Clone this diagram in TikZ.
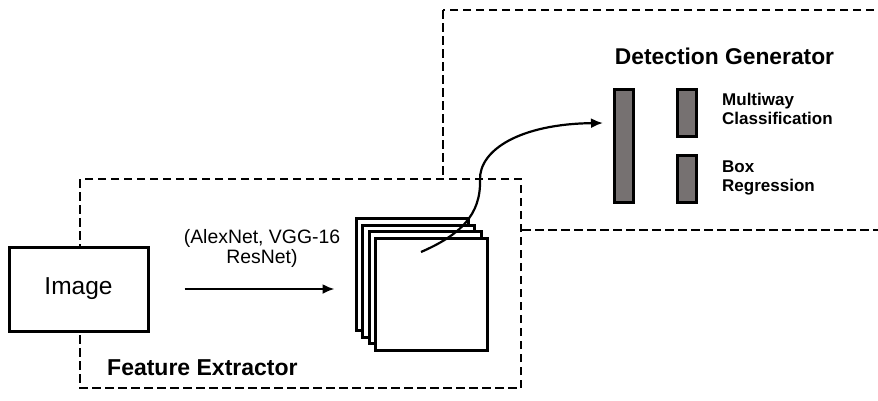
\documentclass[tikz,border=0pt]{standalone}
\usepackage{fontspec}
\setmainfont{Liberation Sans}
\usetikzlibrary{arrows.meta}
\definecolor{bargray}{HTML}{767171}
\tikzset{
  dashbox/.style={draw=black, fill=white, line width=2.9pt, dash pattern=on 8.5pt off 4.5pt},
  plainbox/.style={draw=black, fill=white, line width=3pt, inner sep=0pt},
  fmap/.style={draw=black, fill=white, line width=3pt, inner sep=0pt, minimum width=112pt, minimum height=112pt},
  bar/.style={draw=black, fill=bargray, line width=3pt, inner sep=0pt, minimum width=19pt},
  conn/.style={line width=2.2pt, -{Latex[length=12pt,width=10pt]}},
  title/.style={font=\bfseries\fontsize{22.8}{24}\selectfont, inner sep=0pt},
  lab/.style={font=\bfseries\fontsize{17}{18.5}\selectfont, align=left, anchor=west, inner sep=0pt},
}
\begin{document}
\begin{tikzpicture}[x=1pt,y=-1pt]
\useasboundingbox (0,0) rectangle (878,400);
\clip (0,0) rectangle (878,400);
% detection generator region
\draw[dashbox] (443,10) rectangle (900,230);
% feature extractor region
\draw[dashbox] (80,179) rectangle (521,388);
\node[title] (dgt) at (724.5,56) {Detection Generator};
\node[font=\bfseries\fontsize{23}{24}\selectfont, anchor=west, inner sep=0pt] (fet) at (107,368) {Feature Extractor};
% image
\node[plainbox, minimum width=139pt, minimum height=84pt, font=\fontsize{24.5}{26}\selectfont] (img) at (78.5,289) {Image};
% feature maps
\node[fmap] (sq1) at (412,274) {};
\node[fmap] (sq2) at (418.5,281) {};
\node[fmap] (sq3) at (425,287.5) {};
\node[fmap] (sq4) at (431,294) {};
% backbone arrow
\coordinate (a0) at ([xshift=35pt]img.east);
\coordinate (a1) at ([xshift=185pt]img.east);
\draw[conn] (a0) -- (a1);
\node[font=\fontsize{19.4}{20}\selectfont, align=center, inner sep=0pt] (bb) at (262,248) {(AlexNet, VGG-16\\ResNet)};
% detection bars
\node[bar, minimum height=113pt] (big) at (624,145.5) {};
\node[bar, minimum height=47pt] (cls) at (686.5,112.5) {};
\node[bar, minimum height=47pt] (reg) at (686.5,178.5) {};
\node[lab] (clst) at (722,109) {Multiway\\Classification};
\node[lab] (regt) at (722,178) {Box\\Regression};
% curved connector
\coordinate (cs) at (421,252);
\coordinate (cm) at (480,180);
\coordinate (ce) at (603,123);
\draw[conn] (cs) .. controls (460,235) and (481,215) .. (cm) .. controls (479,150) and (520,124) .. (ce);
\end{tikzpicture}
\end{document}
